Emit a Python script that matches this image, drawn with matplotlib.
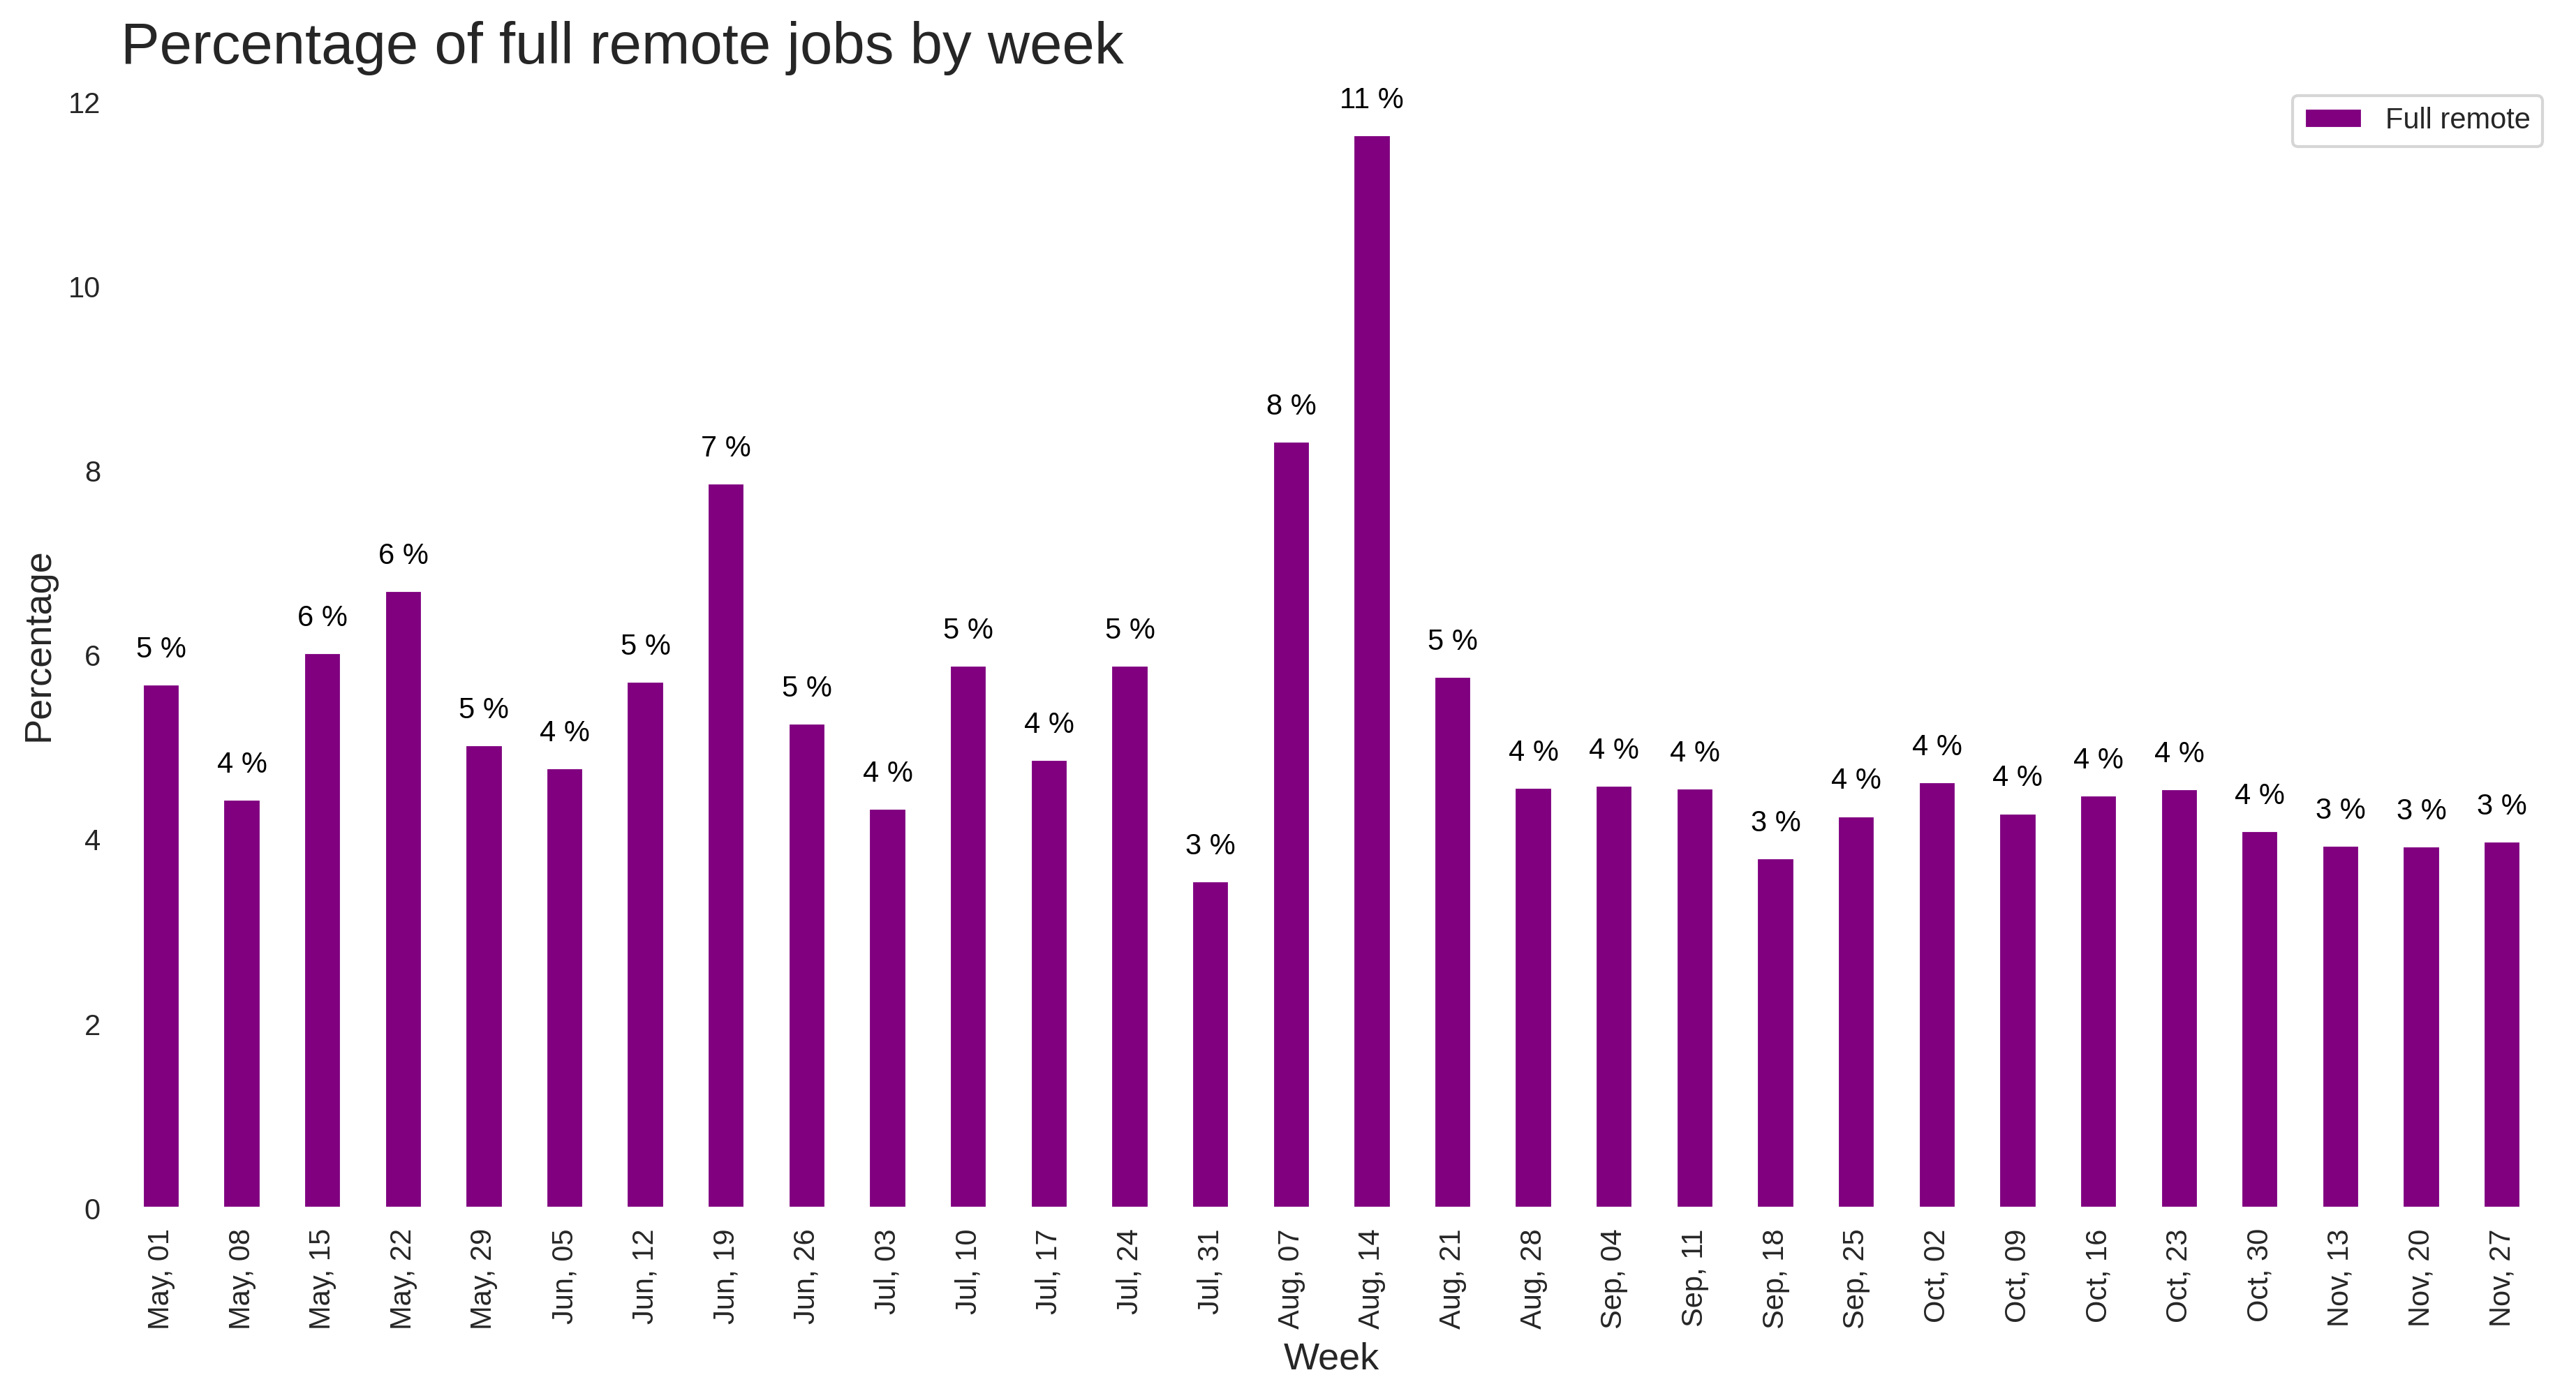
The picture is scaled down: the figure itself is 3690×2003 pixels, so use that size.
import numpy as np
import matplotlib
matplotlib.use("Agg")
import matplotlib.pyplot as plt
import seaborn as sns

weeks = ["May, 01", "May, 08", "May, 15", "May, 22", "May, 29", "Jun, 05",
         "Jun, 12", "Jun, 19", "Jun, 26", "Jul, 03", "Jul, 10", "Jul, 17",
         "Jul, 24", "Jul, 31", "Aug, 07", "Aug, 14", "Aug, 21", "Aug, 28",
         "Sep, 04", "Sep, 11", "Sep, 18", "Sep, 25", "Oct, 02", "Oct, 09",
         "Oct, 16", "Oct, 23", "Oct, 30", "Nov, 13", "Nov, 20", "Nov, 27"]
full_remote = [5.69, 4.44, 6.03, 6.70, 5.03, 4.78, 5.72, 7.87, 5.26, 4.34,
               5.89, 4.87, 5.89, 3.55, 8.32, 11.65, 5.77, 4.57, 4.59, 4.56,
               3.80, 4.26, 4.63, 4.29, 4.48, 4.55, 4.10, 3.94, 3.93, 3.98]

sns.set_style("white")
plt.rcParams["font.family"] = ["Liberation Sans", "DejaVu Sans"]

fig, ax = plt.subplots(figsize=(12.3, 6.677), dpi=300)
fig.subplots_adjust(left=0.0469, right=0.987, bottom=0.1358, top=0.9421)

x = np.arange(len(weeks))
bars = ax.bar(x, full_remote, width=0.47, color="purple", label="Full remote")

# labels above bars, truncated to int like the original
for b, v in zip(bars, full_remote):
    ax.annotate(f"{int(v)} %", (b.get_x() + b.get_width() / 2, v),
                xytext=(0, 7), textcoords="offset points",
                ha="center", va="bottom", fontsize=10, color="black")

ax.set_xlim(-0.5, len(weeks) - 0.5)
ax.set_ylim(0, max(full_remote) * 1.05)
ax.set_xticks(x)
ax.set_xticklabels(weeks, rotation=90)
ax.set_yticks([0, 2, 4, 6, 8, 10, 12])
ax.tick_params(axis="both", length=0, pad=7, labelsize=10)

for s in ax.spines.values():
    s.set_visible(False)

ax.set_title("Percentage of full remote jobs by week", loc="left", fontsize=20)
ax.set_xlabel("Week", fontsize=13)
ax.set_ylabel("Percentage", fontsize=13)
ax.legend(loc="upper right", bbox_to_anchor=(1.006, 1.0), fontsize=10)

fig.savefig("out.png", dpi=300)
